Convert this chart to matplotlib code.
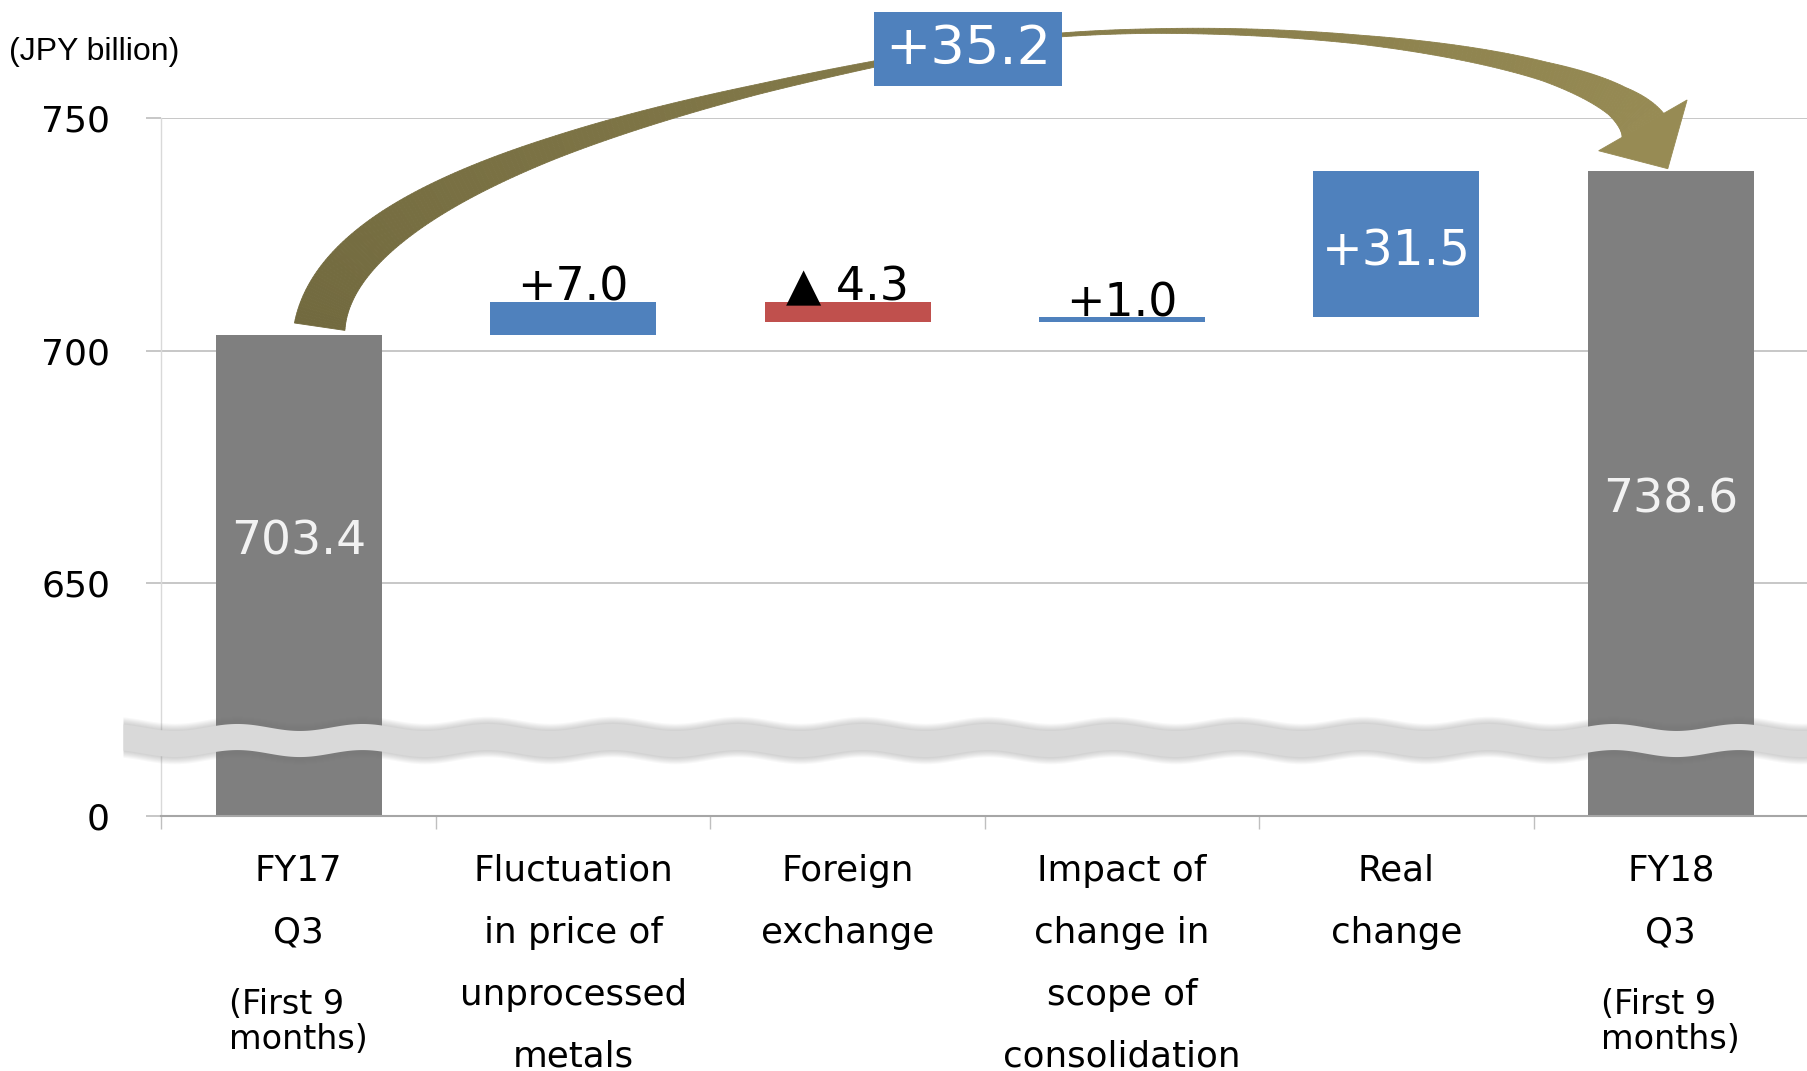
import matplotlib.pyplot as plt
import numpy as np
from matplotlib.patches import Polygon
from matplotlib.transforms import IdentityTransform
from matplotlib.colors import to_rgb

# ---- data (JPY billion) ----
categories = ['FY17\nQ3', 'Fluctuation\nin price of\nunprocessed\nmetals', 'Foreign\nexchange',
              'Impact of\nchange in\nscope of\nconsolidation', 'Real\nchange', 'FY18\nQ3']
period_notes = ['(First 9\nmonths)', '', '', '', '', '(First 9\nmonths)']
start_total = 703.4
end_total = 738.6
changes = [7.0, -4.3, 1.0, 31.5]
change_labels = ['+7.0', '▲ 4.3', '+1.0', '+31.5']
total_labels = ['703.4', '738.6']
total_change_label = '+35.2'

axis_floor = 600          # everything below is cut out by the wavy break
y_ticks = [600, 650, 700, 750]
y_tick_labels = ['0', '650', '700', '750']

GRAY = '#7f7f7f'
BLUE = '#4f81bd'
RED = '#c0504d'

fig, ax = plt.subplots(figsize=(18.08, 10.71), dpi=100)
plt.subplots_adjust(left=0.0893, right=1.0, bottom=0.2377, top=0.8902)
ax.set_xlim(-0.5, 5.5)
ax.set_ylim(axis_floor, 750)

bar_w = 0.605
x = np.arange(len(categories))

# total bars
ax.bar(x[0], start_total - axis_floor, bottom=axis_floor, width=bar_w, color=GRAY, zorder=2)
ax.bar(x[-1], end_total - axis_floor, bottom=axis_floor, width=bar_w, color=GRAY, zorder=2)

# floating change bars
level = start_total
for i, (c, lab) in enumerate(zip(changes, change_labels), start=1):
    low, high = min(level, level + c), max(level, level + c)
    ax.bar(x[i], high - low, bottom=low, width=bar_w, color=BLUE if c >= 0 else RED, zorder=2)
    if abs(c) > 20:
        ax.annotate(lab, (x[i], (low + high) / 2), xytext=(0, -5), textcoords='offset points',
                    ha='center', va='center', color='white', fontsize=35, zorder=3)
    else:
        ax.annotate(lab, (x[i], high), xytext=(0, 1), textcoords='offset points',
                    ha='center', va='baseline', fontsize=33, color='black', zorder=3)
    level += c

# value labels inside the total bars
for xi, lab, yl in zip([x[0], x[-1]], total_labels, [659, 668]):
    ax.text(xi, yl, lab, ha='center', va='center', color='#f2f2f2', fontsize=34, zorder=3)

# axes styling
ax.set_yticks(y_ticks)
ax.set_yticklabels(y_tick_labels, fontsize=26)
ax.tick_params(axis='y', length=11, width=1.2, color='#bdbdbd', pad=26)
ax.yaxis.grid(True, color='#bdbdbd', lw=1.2, zorder=0)
ax.set_axisbelow(True)

ax.set_xticks(x)
ax.set_xticklabels(categories, fontsize=25.7, linespacing=2.03)
ax.tick_params(axis='x', which='major', length=0, pad=27)
ax.set_xticks(np.arange(-0.5, 6, 1), minor=True)
ax.tick_params(axis='x', which='minor', length=9, width=1.0, color='#bfbfbf')

for s in ['top', 'right']:
    ax.spines[s].set_visible(False)
ax.spines['left'].set_color('#d9d9d9')
ax.spines['left'].set_linewidth(1.0)
ax.spines['bottom'].set_color('#a6a6a6')
ax.spines['bottom'].set_linewidth(1.5)

for xi, note in zip(x, period_notes):
    if note:
        ax.annotate(note, (xi, 0), xycoords=('data', 'axes fraction'), xytext=(0, -148),
                    textcoords='offset points', ha='center', va='center',
                    multialignment='left', fontsize=24, linespacing=1.05)

fig.text(0.005, 1 - 52 / 1071, '(JPY billion)', fontsize=23,
         family='Liberation Sans', ha='left', va='center')

# ---- wavy axis break ----
bx = np.linspace(-0.64, 5.6, 800)
wave = 0.75 * np.cos(2 * np.pi * (bx - 0.687) / 0.456)
b_center, b_half = 616.4, 2.8
for k in range(7, 0, -1):
    grow = 0.22 * k
    ax.fill_between(bx, b_center - b_half - grow + wave, b_center + b_half + grow + wave,
                    color='#7a7a7a', alpha=0.05, lw=0, zorder=4, clip_on=False)
ax.fill_between(bx, b_center - b_half + wave, b_center + b_half + wave,
                color='#d9d9d9', lw=0, zorder=4.5, clip_on=False)


# ---- curved ribbon arrow from one total to the other (pixel space) ----
def bezier(p0, p1, p2, p3, n=160):
    t = np.linspace(0, 1, n)[:, None]
    pts = (1 - t) ** 3 * p0 + 3 * (1 - t) ** 2 * t * p1 + 3 * (1 - t) * t ** 2 * p2 + t ** 3 * p3
    d = 3 * (1 - t) ** 2 * (p1 - p0) + 6 * (1 - t) * t * (p2 - p1) + 3 * t ** 2 * (p3 - p2)
    return pts, d


def unit(v):
    v = np.asarray(v, float)
    return v / np.hypot(*v)


box_xy = (2.44, 764.7)
tail = ax.transData.transform((x[0], start_total)) + np.array([21, 8])
tip = ax.transData.transform((x[-1], end_total)) + np.array([-3, 2])
mid = ax.transData.transform(box_xy) + np.array([0, 3])
head_dir = unit([27.0, -47.0])
neck = tip - head_dir * 50
mid_dir = unit([268.0, 49.0])

seg_a, d_a = bezier(tail, tail + np.array([22, 150]), mid - mid_dir * 272, mid)
seg_b, d_b = bezier(mid, mid + mid_dir * 200, neck - head_dir * 100, neck)
ta = np.linspace(0, 1, len(seg_a))
w_a = np.interp(ta, [0, 0.25, 0.5, 0.75, 1], [51, 37, 22, 10, 3])
w_b = np.interp(ta, [0, 0.25, 0.5, 0.75, 0.9, 1], [3, 4.5, 9, 19, 32, 48])
curve = np.vstack([seg_a, seg_b[1:]])
deriv = np.vstack([d_a, d_b[1:]])
width = np.concatenate([w_a, w_b[1:]])
frac = np.linspace(0, 1, len(curve))

normal = np.column_stack([-deriv[:, 1], deriv[:, 0]])
normal /= np.hypot(normal[:, 0], normal[:, 1])[:, None]
left_edge = curve + normal * width[:, None] / 2
right_edge = curve - normal * width[:, None] / 2

c_start, c_end = np.array(to_rgb('#726a3f')), np.array(to_rgb('#978b54'))
for i in range(len(curve) - 1):
    col = c_start + (c_end - c_start) * frac[i]
    quad = [left_edge[i], left_edge[i + 1], right_edge[i + 1], right_edge[i]]
    ax.add_patch(Polygon(quad, closed=True, fc=col, ec=col, lw=0.6,
                         transform=IdentityTransform(), clip_on=False, zorder=5))
perp = np.array([-head_dir[1], head_dir[0]])
head = [neck + perp * 51, tip, neck - perp * 51]
ax.add_patch(Polygon(head, closed=True, fc=c_end, ec=c_end, lw=0.6,
                     transform=IdentityTransform(), clip_on=False, zorder=5))

ax.text(*box_xy, total_change_label, ha='center', va='center', color='white', fontsize=39,
        clip_on=False, zorder=6,
        bbox=dict(boxstyle='square,pad=0.2', fc=BLUE, ec='none'))

fig.savefig('out.png', dpi=100)
